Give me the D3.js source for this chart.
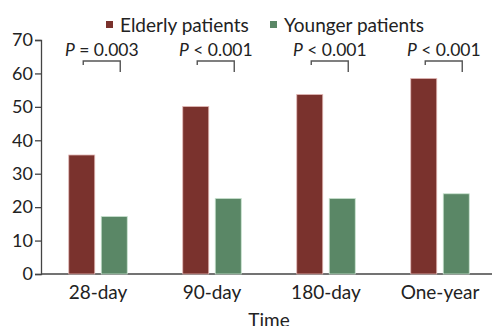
<!DOCTYPE html>
<html>
<head>
<meta charset="utf-8">
<script src="https://cdn.jsdelivr.net/npm/d3@7"></script>
<style>
  body { margin: 0; background: #fff; }
  svg { display: block; font-family: Lato, "Open Sans", sans-serif; }
</style>
</head>
<body>
<svg id="chart" width="492" height="326"></svg>
<script>
// data
const periods = ["28-day", "90-day", "180-day", "One-year"];
const elderly = [35.6, 50.1, 53.7, 58.5];
const younger = [17.2, 22.6, 22.6, 24.0];
const pLabels = ["P = 0.003", "P < 0.001", "P < 0.001", "P < 0.001"];
const yTicks = [0, 10, 20, 30, 40, 50, 60, 70];

const svg = d3.select("#chart");
const margin = { left: 41, right: -5, top: 40, bottom: 52 };
const width = 492, height = 326;

const x = d3.scaleBand()
  .domain(periods)
  .range([margin.left, width - margin.right])
  .paddingInner(0).paddingOuter(0);

const y = d3.scaleLinear()
  .domain([0, 70])
  .range([274, 40]);

const barW = 26, gap = 6.5;

// y axis
const yAxis = svg.append("g")
  .attr("transform", `translate(${margin.left},0)`)
  .call(d3.axisLeft(y).tickValues(yTicks).tickSize(6).tickPadding(2));
yAxis.select(".domain").attr("stroke", "#444").attr("stroke-width", 1.3);
yAxis.selectAll(".tick line").attr("stroke", "#444").attr("stroke-width", 1.3);
yAxis.selectAll(".tick text")
  .attr("font-size", 18).attr("fill", "#222")
  .attr("font-family", "Lato, sans-serif");

// x axis line
svg.append("line")
  .attr("x1", margin.left).attr("x2", width)
  .attr("y1", y(0)).attr("y2", y(0))
  .attr("stroke", "#444").attr("stroke-width", 1.3);

// x labels
svg.append("g").selectAll("text")
  .data(periods)
  .join("text")
  .attr("x", d => x(d) + x.bandwidth() / 2)
  .attr("y", 299)
  .attr("text-anchor", "middle")
  .attr("font-size", 19).attr("fill", "#222")
  .text(d => d);

svg.append("text")
  .attr("x", (margin.left + width - margin.right) / 2)
  .attr("y", 327)
  .attr("text-anchor", "middle")
  .attr("font-size", 19).attr("fill", "#222")
  .text("Time");

// bars
const center = d => x(d) + x.bandwidth() / 2;

svg.append("g").selectAll("rect")
  .data(periods)
  .join("rect")
  .attr("x", d => center(d) - gap / 2 - barW)
  .attr("y", (d, i) => y(elderly[i]))
  .attr("width", barW)
  .attr("height", (d, i) => y(0) - y(elderly[i]))
  .attr("fill", "#7a322d")
  .attr("stroke", "#e2b8b6").attr("stroke-width", 0.8);

svg.append("g").selectAll("rect")
  .data(periods)
  .join("rect")
  .attr("x", d => center(d) + gap / 2)
  .attr("y", (d, i) => y(younger[i]))
  .attr("width", barW)
  .attr("height", (d, i) => y(0) - y(younger[i]))
  .attr("fill", "#5a8766")
  .attr("stroke", "#c8e2cf").attr("stroke-width", 0.8);

// significance brackets
const br = svg.append("g");
periods.forEach((d, i) => {
  const x1 = center(d) - gap / 2 - barW / 2 + 1.5;
  const x2 = center(d) + gap / 2 + barW / 2 + 6;
  br.append("path")
    .attr("d", `M${x1},65 V61 H${x2} V72`)
    .attr("fill", "none")
    .attr("stroke", "#555").attr("stroke-width", 1.4);

  const parts = pLabels[i].split(" ");
  const t = br.append("text")
    .attr("x", (x1 + x2) / 2)
    .attr("y", 56)
    .attr("text-anchor", "middle")
    .attr("font-size", 17.5).attr("fill", "#222");
  t.append("tspan").attr("font-style", "italic").text(parts[0]);
  t.append("tspan").text(" " + parts.slice(1).join(" "));
});

// legend
const legendItems = [
  { label: "Elderly patients", color: "#7a322d", x: 106 },
  { label: "Younger patients", color: "#5a8766", x: 270 }
];
const lg = svg.append("g");
legendItems.forEach(it => {
  lg.append("rect")
    .attr("x", it.x).attr("y", 21)
    .attr("width", 7).attr("height", 7)
    .attr("fill", it.color);
  lg.append("text")
    .attr("x", it.x + 14).attr("y", 32)
    .attr("font-size", 19).attr("fill", "#222")
    .text(it.label);
});
</script>
</body>
</html>
